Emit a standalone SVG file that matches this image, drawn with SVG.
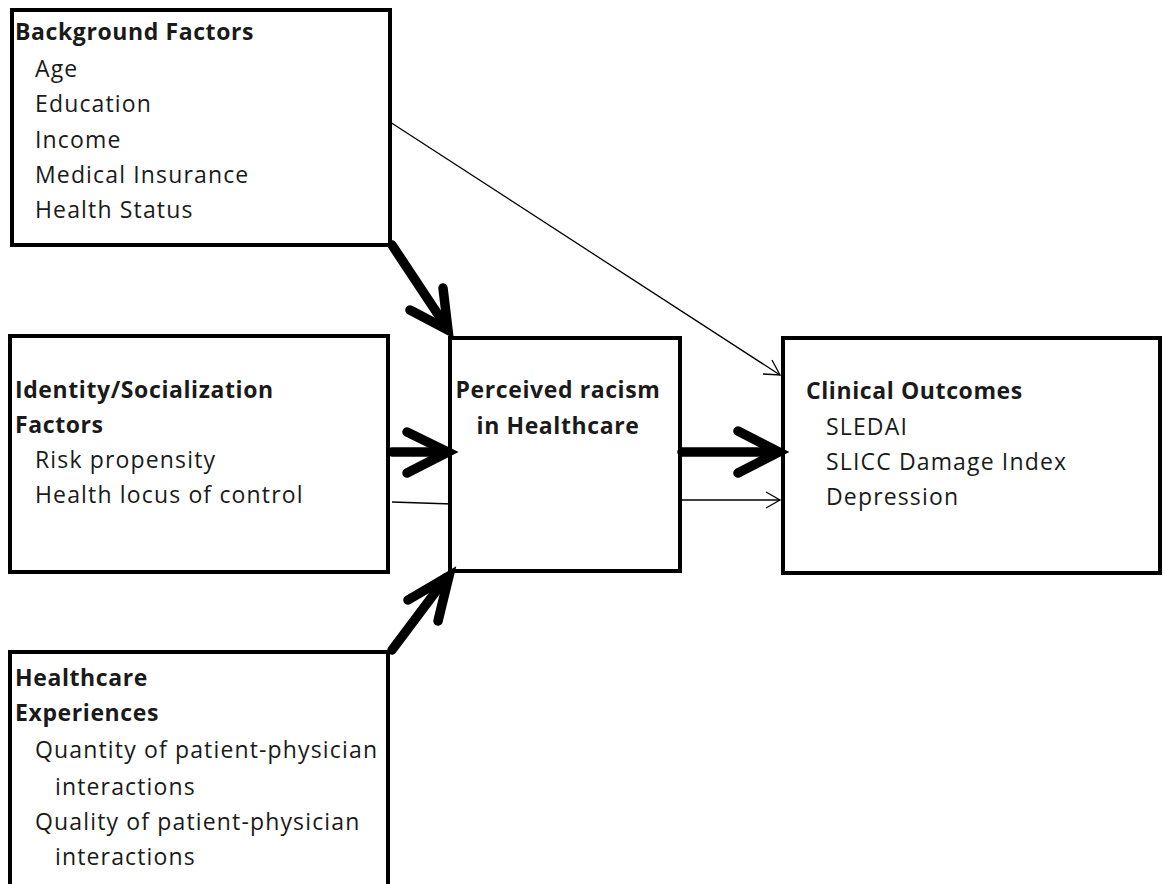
<svg xmlns="http://www.w3.org/2000/svg" width="1165" height="884" viewBox="0 0 1165 884">
<style>
.box{fill:#fff;stroke:#000;stroke-width:4}
text{font-family:"Open Sans","Noto Sans","Liberation Sans",sans-serif;font-size:23px;fill:#1a1a1a;letter-spacing:1.15px}
.b{font-weight:bold;letter-spacing:0.6px}
.thick{fill:none;stroke:#000;stroke-width:9.5;stroke-linecap:round;stroke-linejoin:miter}
.thin{fill:none;stroke:#000;stroke-width:1.3}
</style>
<rect width="1165" height="884" fill="#fff"/>
<g id="background">
<rect class="box" x="12" y="10" width="378" height="235"/>
<text class="b" x="15" y="40">Background Factors</text>
<text x="35" y="77">Age</text>
<text x="35" y="112">Education</text>
<text x="35" y="148">Income</text>
<text x="35" y="183">Medical Insurance</text>
<text x="35" y="218">Health Status</text>
</g>
<g id="identity">
<rect class="box" x="10" y="336" width="378" height="236"/>
<text class="b" x="15" y="398">Identity/Socialization</text>
<text class="b" x="15" y="433">Factors</text>
<text x="35" y="468">Risk propensity</text>
<text x="35" y="503">Health locus of control</text>
</g>
<g id="healthcare">
<path class="box" d="M10,900 V652 H388 V900"/>
<text class="b" x="15" y="686">Healthcare</text>
<text class="b" x="15" y="721">Experiences</text>
<text x="35" y="758">Quantity of patient-physician</text>
<text x="55" y="795">interactions</text>
<text x="35" y="830">Quality of patient-physician</text>
<text x="55" y="865">interactions</text>
</g>
<g id="perceived">
<rect class="box" x="450" y="338" width="230" height="233"/>
<text class="b" x="558" y="398" text-anchor="middle">Perceived racism</text>
<text class="b" x="558" y="434" text-anchor="middle">in Healthcare</text>
</g>
<g id="clinical">
<rect class="box" x="783" y="338" width="377" height="235"/>
<text class="b" x="806" y="399">Clinical Outcomes</text>
<text x="826" y="435">SLEDAI</text>
<text x="826" y="470">SLICC Damage Index</text>
<text x="826" y="505">Depression</text>
</g>
<g id="connectors">
<path class="thick" d="M392,245 L447,328"/>
<path class="thick" d="M443,288 L448,330 L410,310"/>
<path class="thick" d="M392,452 L445,452"/>
<path class="thick" d="M407,432 L448,452 L407,473"/>
<path class="thick" d="M392,650 L446,578"/>
<path class="thick" d="M408,600 L449,576 L438,621"/>
<path class="thick" d="M682,452 L776,452"/>
<path class="thick" d="M738,431 L779,452 L738,473"/>
<path class="thin" d="M390,122 L780,375"/>
<path class="thin" d="M763,374 L780,375 L772,360"/>
<path class="thin" d="M392,502 L452,504"/>
<path class="thin" d="M682,500 L780,500"/>
<path class="thin" d="M766,492 L780,500 L766,508"/>
</g>
</svg>
